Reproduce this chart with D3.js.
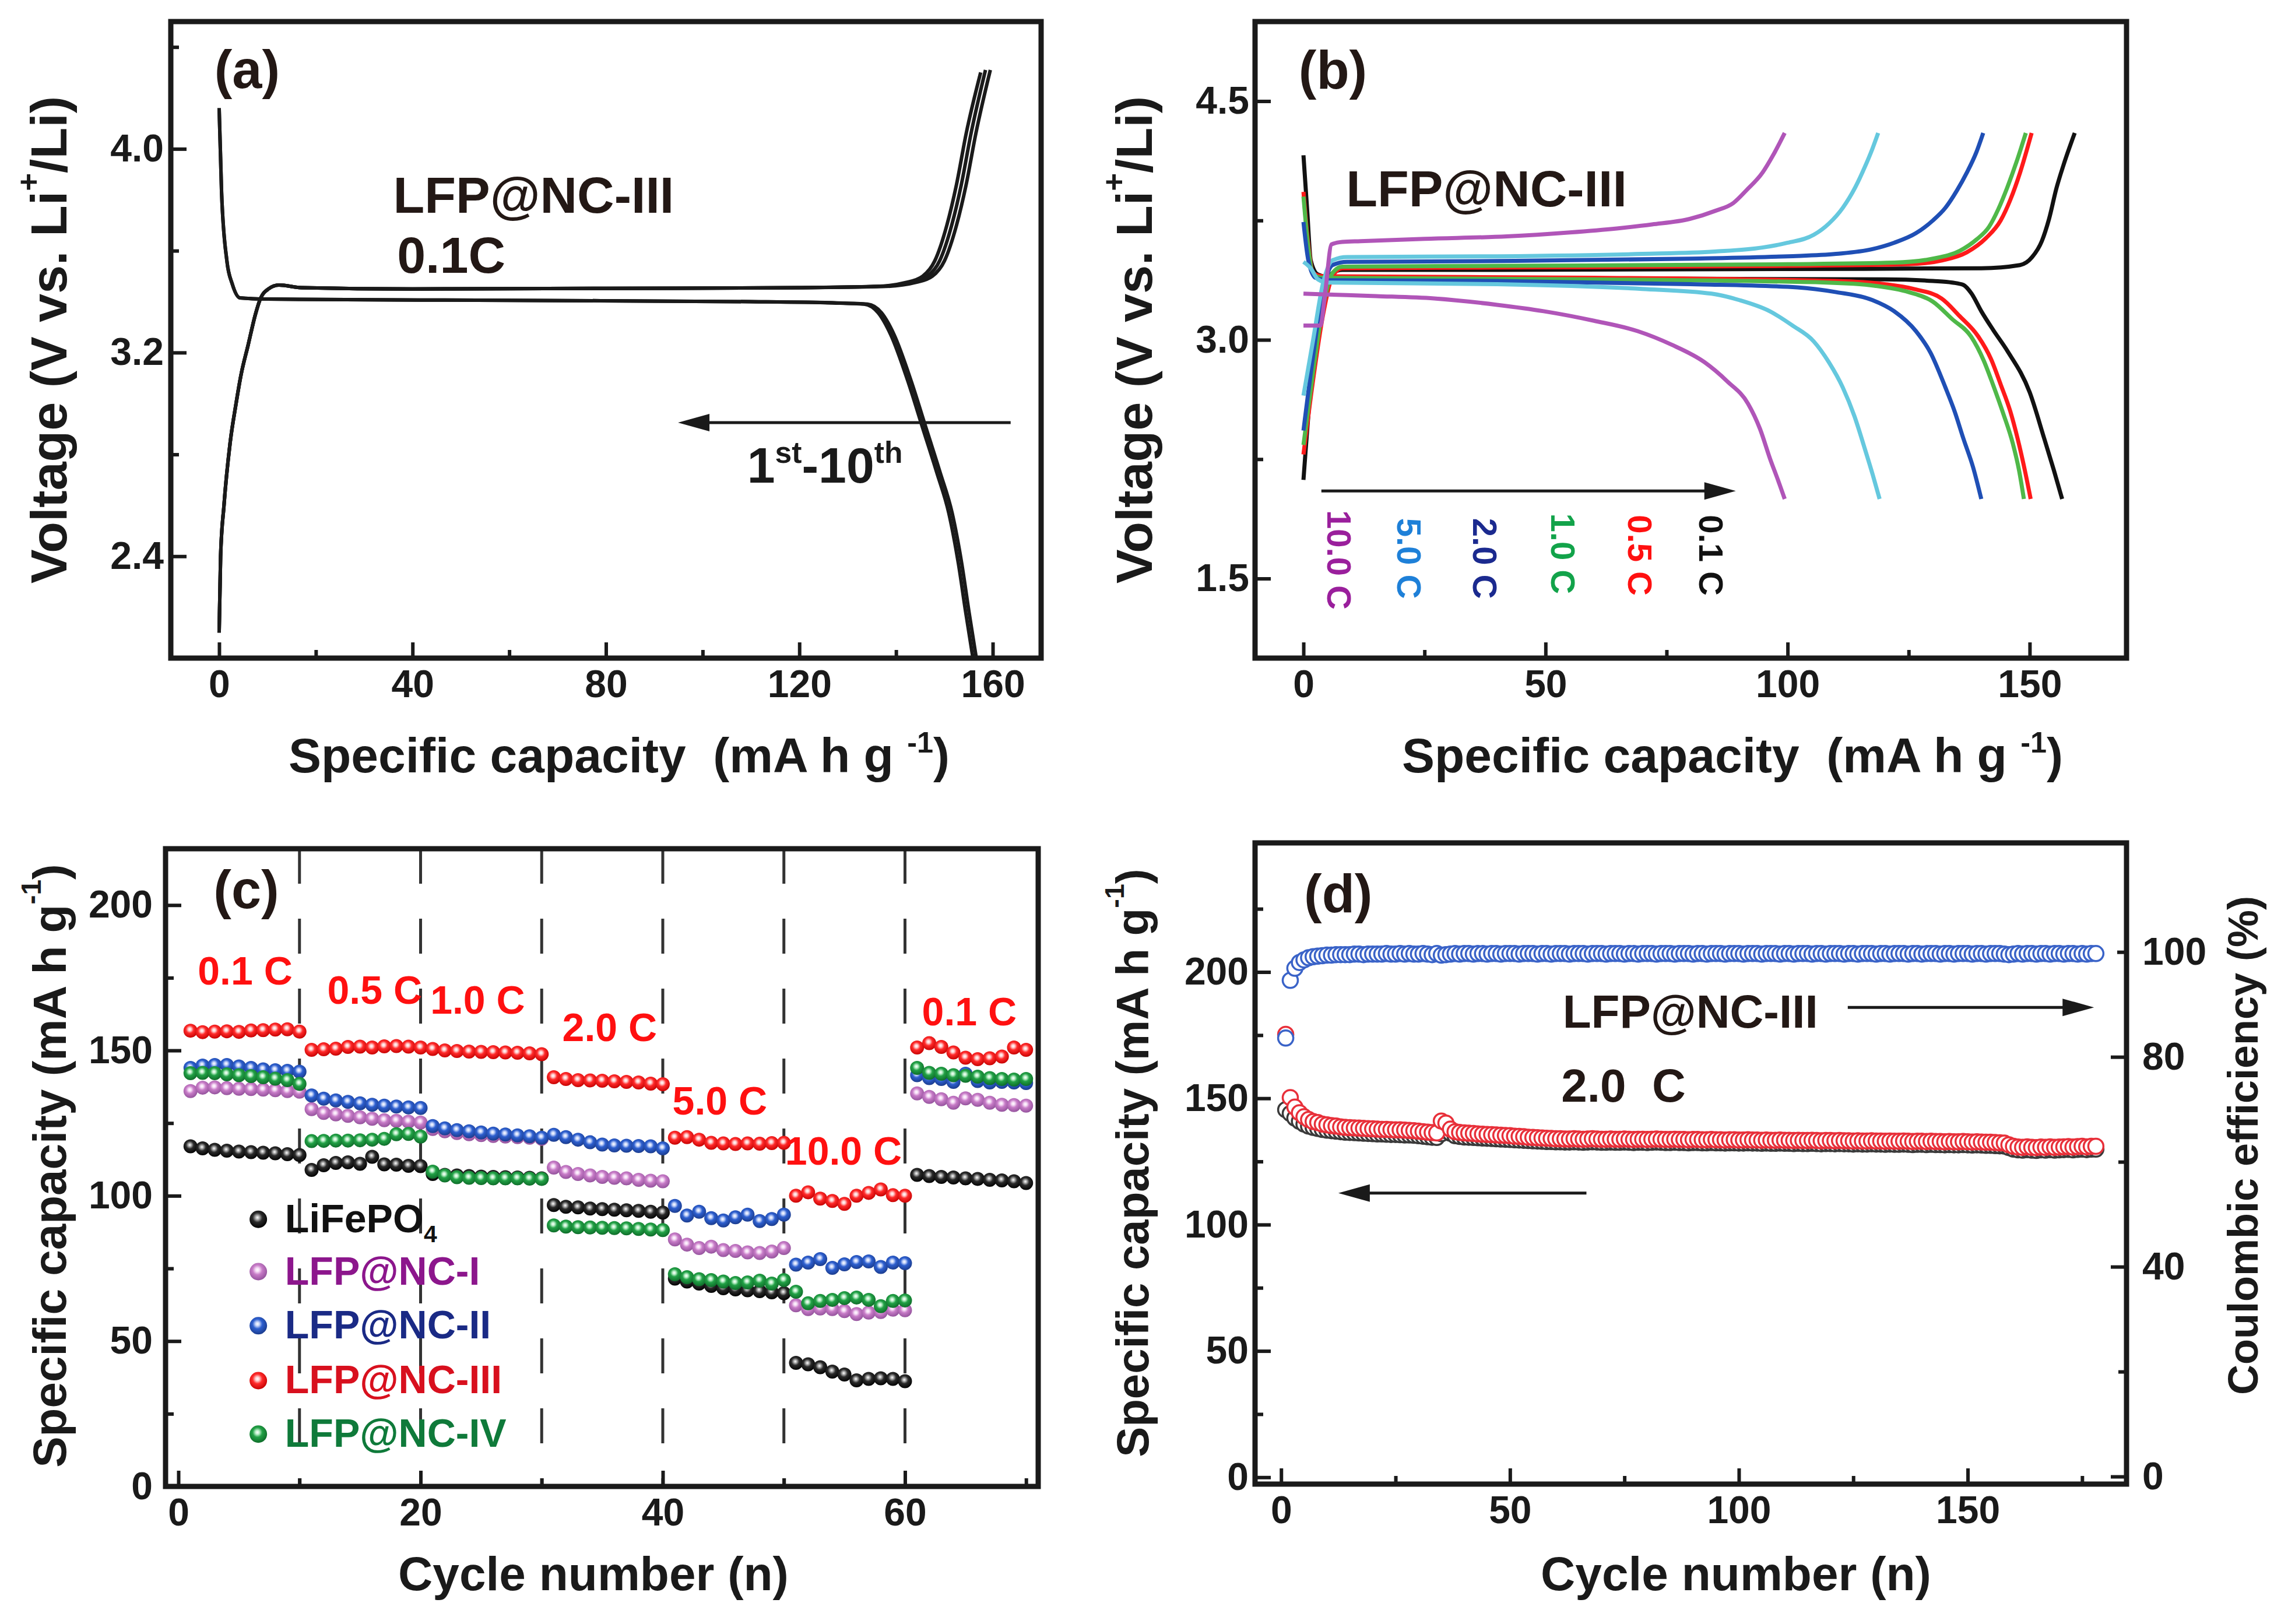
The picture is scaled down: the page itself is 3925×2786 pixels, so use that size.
<!DOCTYPE html>
<html>
<head>
<meta charset="utf-8">
<script src="https://cdnjs.cloudflare.com/ajax/libs/d3/7.8.5/d3.min.js"></script>
<style>
body { margin: 0; background: #fff; }
svg { display: block; }
text { font-family: "Liberation Sans", Arial, Helvetica, sans-serif; font-weight: bold; white-space: pre; }
</style>
</head>
<body>
<svg id="fig" width="3925" height="2786"></svg>
<script>
// ---------- (a) LFP@NC-III, 0.1C, cycles 1-10 : [capacity, voltage]
var aChargeHead = [[0,2.10],[0.3,2.40],[1.0,2.60],[2.3,2.85],[3.5,3.00],[4.5,3.11],[6,3.23],[7.5,3.35],[8.5,3.41],[10.2,3.45],[12.4,3.465],[17,3.455],[40,3.45],[80,3.452],[120,3.455]];
var aChargeTails = [
  [[138,3.46],[144,3.475],[147.5,3.50],[150,3.56],[152.5,3.70],[154.5,3.86],[156.5,4.06],[159.5,4.31]],
  [[137,3.46],[143,3.475],[146.5,3.50],[149,3.56],[151.5,3.70],[153.5,3.86],[155.5,4.06],[158.5,4.31]],
  [[136,3.46],[142,3.475],[145.5,3.50],[148,3.56],[150.5,3.70],[152.5,3.86],[154.5,4.06],[157.5,4.30]]
];
var aDischargeHead = [[0,4.16],[0.5,3.83],[1.6,3.56],[2.7,3.47],[4.3,3.415],[10,3.41],[60,3.405],[110,3.40]];
var aDischargeTails = [
  [[128,3.395],[134.1,3.39],[137,3.356],[139.6,3.27],[143.1,3.09],[146.1,2.91],[149.1,2.73],[151.6,2.57],[153.6,2.37],[155.1,2.18],[156.6,2.0]],
  [[127,3.395],[133.4,3.39],[136.3,3.356],[138.9,3.27],[142.4,3.09],[145.4,2.91],[148.4,2.73],[150.9,2.57],[152.9,2.37],[154.4,2.18],[155.9,2.0]]
];

// ---------- (b) rate curves : [capacity, voltage]
var bRates = ["0.1 C", "0.5 C", "1.0 C", "2.0 C", "5.0 C", "10.0 C"];
var bCharge = {
  "0.1 C": [[0,2.12],[1.5,2.7],[3,3.1],[4.5,3.35],[6,3.42],[8,3.44],[40,3.44],[100,3.445],[140,3.45],[148,3.47],[150.5,3.52],[152.5,3.62],[154,3.76],[155.5,3.95],[157,4.10],[159.3,4.30]],
  "0.5 C": [[0,2.28],[2,2.75],[4,3.15],[6,3.40],[8,3.45],[40,3.455],[100,3.465],[125,3.475],[132,3.50],[137,3.55],[141,3.64],[144,3.75],[146,3.88],[148,4.05],[150.4,4.30]],
  "1.0 C": [[0,2.34],[2,2.8],[4,3.2],[6,3.42],[8,3.46],[40,3.465],[100,3.475],[122,3.485],[130,3.51],[135.6,3.56],[139,3.63],[141.6,3.71],[143.5,3.82],[145.4,3.96],[147.3,4.12],[149.2,4.30]],
  "2.0 C": [[0,2.43],[2,2.9],[4,3.3],[6,3.47],[9,3.49],[40,3.495],[80,3.51],[100,3.525],[110,3.54],[117.5,3.57],[122,3.61],[126.5,3.67],[130,3.75],[132.6,3.83],[135,3.94],[137,4.05],[139,4.18],[140.4,4.30]],
  "5.0 C": [[0,2.65],[2,3.0],[4,3.35],[6,3.50],[9,3.52],[40,3.525],[70,3.54],[85,3.555],[94.8,3.58],[100,3.61],[105.4,3.66],[108.5,3.73],[111.4,3.83],[114,3.96],[116,4.09],[117.5,4.20],[118.7,4.30]],
  "10.0 C": [[0,3.09],[3.5,3.09],[4.5,3.3],[5.8,3.60],[8,3.615],[11.8,3.62],[25,3.635],[42,3.65],[55,3.675],[64.7,3.70],[72,3.725],[79.8,3.76],[85,3.81],[88.8,3.86],[91.5,3.94],[94.8,4.05],[97,4.16],[99.4,4.30]]
};
var bDischarge = {
  "0.1 C": [[0,4.16],[0.8,3.8],[1.5,3.5],[3,3.41],[6,3.39],[60,3.385],[120,3.38],[130,3.37],[134,3.36],[136.3,3.345],[138,3.29],[140,3.18],[142.5,3.06],[145.4,2.93],[150,2.67],[153,2.38],[155,2.18],[156.7,2.0]],
  "0.5 C": [[0,3.93],[1,3.6],[2,3.42],[4,3.40],[60,3.39],[110,3.37],[120,3.35],[126,3.32],[131.8,3.26],[135.5,3.15],[139.4,3.02],[142,2.88],[144,2.72],[146,2.55],[147.5,2.38],[149,2.18],[150.2,2.0]],
  "1.0 C": [[0,3.9],[1,3.58],[2,3.41],[4,3.39],[60,3.38],[108,3.36],[118,3.34],[125,3.30],[130,3.24],[134,3.13],[137.9,3.02],[140.5,2.87],[142.4,2.72],[144.5,2.54],[146.5,2.35],[147.8,2.18],[148.8,2.0]],
  "2.0 C": [[0,3.74],[1,3.5],[2.5,3.39],[5,3.375],[40,3.37],[80,3.35],[102,3.33],[110,3.30],[117.5,3.25],[122,3.18],[126.5,3.055],[129.5,2.92],[132.6,2.70],[134.5,2.55],[136.3,2.38],[138.3,2.2],[140,2.0]],
  "5.0 C": [[0,3.49],[1.5,3.45],[3,3.38],[5,3.36],[40,3.35],[70,3.32],[84.3,3.29],[90,3.25],[96.3,3.18],[101,3.09],[105.4,2.99],[108.5,2.86],[111.4,2.70],[113.8,2.52],[116,2.31],[117.6,2.15],[119,2.0]],
  "10.0 C": [[0,3.29],[5,3.285],[15,3.275],[27,3.26],[40,3.22],[49.6,3.18],[60,3.12],[69,3.055],[76,2.97],[82.8,2.86],[87.5,2.74],[91.8,2.60],[94.3,2.44],[96.4,2.25],[98,2.12],[99.4,2.0]]
};

// ---------- (c) rate capability, cycles 1-70 (mA h g-1)
var cNames = ["LiFePO4", "LFP@NC-I", "LFP@NC-II", "LFP@NC-III", "LFP@NC-IV"];
var cLiFePO4 = [117.0,116.3,115.8,115.5,115.2,115.0,114.8,114.6,114.3,114.0, 108.9,110.5,111.3,111.5,111.0,113.4,110.8,110.7,110.3,110.2, 107.5,107.2,107.0,106.8,106.6,106.5,106.4,106.3,106.2,106.0, 96.8,96.2,96.0,95.6,95.4,95.2,95.0,94.8,94.5,94.2, 71.5,70.5,69.8,69.0,68.2,67.8,67.5,67.2,66.8,66.5, 42.5,42.0,41.0,39.5,38.5,36.5,37.0,37.2,37.0,36.2, 107.2,106.8,106.5,106.3,106.0,105.8,105.5,105.3,105.0,104.4];
var cNC1 = [136.0,137.2,137.3,137.0,136.8,136.7,136.5,136.3,136.0,135.8, 129.8,128.5,128.0,127.5,127.0,126.5,126.0,125.8,125.5,125.2, 123.0,122.2,121.6,121.2,120.9,120.6,120.4,120.2,120.0,119.6, 109.7,108.2,107.5,107.0,106.5,106.2,106.0,105.5,105.2,105.0, 85.0,83.2,82.0,82.5,81.3,81.0,80.5,80.3,80.8,82.0, 62.3,61.0,61.2,61.0,60.3,59.3,59.8,60.0,60.8,60.6, 135.2,134.0,133.2,132.0,133.5,133.0,132.0,131.3,131.2,131.0];
var cNC2 = [144.0,144.8,145.0,145.0,144.5,144.0,143.5,143.2,143.0,142.7, 134.5,133.4,132.8,132.3,131.8,131.3,131.0,130.7,130.4,130.2, 124.0,123.2,122.6,122.2,121.8,121.4,121.1,120.8,120.5,120.0, 121.0,120.2,119.3,118.4,117.6,117.3,117.2,117.1,117.0,116.3, 96.5,93.2,94.5,92.3,91.5,92.6,93.5,91.3,92.0,93.5, 76.3,77.0,78.2,75.2,76.4,77.2,77.4,75.5,77.0,76.8, 141.5,140.5,140.2,139.2,142.0,139.5,139.0,139.2,139.0,138.8];
var cNC3 = [156.8,156.3,156.5,156.6,156.4,156.9,157.0,157.2,157.3,156.5, 150.2,150.4,150.6,151.2,151.3,151.0,151.4,151.5,151.3,151.0, 150.5,150.0,149.8,149.6,149.5,149.4,149.3,149.2,149.0,148.7, 140.8,140.2,139.8,139.7,139.6,139.4,139.2,139.0,138.6,138.4, 120.0,120.2,119.3,118.2,118.0,117.8,118.0,117.9,118.1,118.2, 100.0,101.2,99.0,98.2,97.2,100.0,101.0,102.2,100.2,100.0, 151.0,152.5,151.2,149.3,147.5,147.0,147.3,147.9,151.0,150.2];
var cNC4 = [142.2,142.3,142.2,141.8,141.5,141.2,140.8,140.3,139.8,138.5, 118.8,118.9,119.0,119.0,119.1,119.3,119.6,121.2,121.3,120.4, 108.3,107.0,106.4,106.2,106.1,106.0,106.0,106.0,105.9,105.8, 89.8,89.4,89.2,89.1,89.0,88.9,88.8,88.6,88.4,88.2, 73.0,72.0,71.3,71.0,70.5,70.0,70.2,70.8,69.8,71.0, 67.0,63.0,63.8,64.2,64.8,65.0,64.2,62.0,63.8,64.0, 144.0,142.3,142.0,141.5,141.3,141.0,140.5,140.2,140.0,140.2];
var cRateLabels = ["0.1 C", "0.5 C", "1.0 C", "2.0 C", "5.0 C", "10.0 C", "0.1 C"];
var cRateBreaks = [10, 20, 30, 40, 50, 60];

// ---------- (d) LFP@NC-III at 2.0 C, cycles 1-178
var dCharge = [145.5,144.0,142.2,140.9,139.8,139.0,138.5,138.1,137.7,137.4,
  137.2,137.0,136.8,136.6,136.5,136.4,136.3,136.2,136.1,136.0,
  135.9,135.9,135.8,135.7,135.7,135.6,135.5,135.5,135.4,135.2,
  135.0,134.8,134.6,134.5,136.0,137.2,136.2,135.2,134.9,134.7,
  134.6,134.5,134.4,134.3,134.2,134.1,134.0,133.9,133.8,133.7,
  133.6,133.5,133.4,133.3,133.2,133.1,133.0,132.9,132.9,132.8,
  132.8,132.7,132.7,132.8,132.7,132.6,132.7,132.8,132.7,132.6,
  132.6,132.7,132.6,132.6,132.7,132.6,132.5,132.6,132.6,132.5,
  132.6,132.7,132.6,132.5,132.5,132.6,132.5,132.5,132.4,132.5,
  132.5,132.4,132.4,132.5,132.4,132.4,132.3,132.4,132.4,132.3,
  132.3,132.4,132.3,132.3,132.2,132.3,132.2,132.2,132.3,132.2,
  132.2,132.1,132.2,132.1,132.1,132.2,132.1,132.0,132.1,132.1,
  132.0,132.1,132.0,132.0,131.9,132.0,131.9,131.9,132.0,131.9,
  131.9,131.8,131.9,131.8,131.8,131.9,131.8,131.7,131.8,131.8,
  131.7,131.8,131.7,131.7,131.6,131.7,131.6,131.6,131.7,131.6,
  131.5,131.6,131.5,131.4,131.4,131.3,131.2,131.1,130.5,129.9,
  129.6,129.5,129.7,129.5,129.4,129.6,129.5,129.7,129.5,129.6,
  129.7,129.8,129.6,129.8,129.9,129.7,129.9,129.9];
var dDischarge = [175.3,150.3,146.5,144.3,142.7,141.6,140.8,140.4,139.8,139.5,
  139.2,139.0,138.7,138.5,138.4,138.3,138.2,138.1,138.0,137.9,
  137.8,137.7,137.7,137.6,137.5,137.5,137.4,137.3,137.2,137.0,
  136.8,136.6,136.4,136.3,141.0,140.2,137.8,136.8,136.5,136.3,
  136.2,136.1,135.9,135.8,135.7,135.6,135.5,135.4,135.3,135.2,
  135.0,134.9,134.8,134.6,134.5,134.4,134.3,134.2,134.1,134.0,
  134.0,133.9,133.9,134.0,133.9,133.8,133.9,134.0,133.9,133.8,
  133.8,133.9,133.8,133.8,133.9,133.8,133.7,133.8,133.8,133.7,
  133.8,133.9,133.8,133.7,133.7,133.8,133.7,133.7,133.6,133.7,
  133.7,133.6,133.6,133.7,133.6,133.6,133.5,133.6,133.6,133.5,
  133.5,133.6,133.5,133.5,133.4,133.5,133.4,133.4,133.5,133.4,
  133.4,133.3,133.4,133.3,133.3,133.4,133.3,133.2,133.3,133.3,
  133.2,133.3,133.2,133.2,133.1,133.2,133.1,133.1,133.2,133.1,
  133.1,133.0,133.1,133.0,133.0,133.1,133.0,132.9,133.0,133.0,
  132.9,133.0,132.9,132.9,132.8,132.9,132.8,132.8,132.9,132.8,
  132.7,132.8,132.7,132.6,132.6,132.5,132.4,132.3,131.6,131.0,
  130.7,130.6,130.8,130.6,130.5,130.7,130.6,130.8,130.6,130.7,
  130.8,130.9,130.7,130.9,131.0,130.8,131.0,131.0];
var dEfficiency = [83.6,94.6,96.9,98.0,98.5,98.9,99.1,99.2,99.3,99.4,
  99.4,99.5,99.5,99.5,99.5,99.6,99.6,99.5,99.6,99.6,
  99.6,99.6,99.7,99.6,99.6,99.7,99.6,99.7,99.6,99.6,
  99.7,99.6,99.5,99.7,99.4,99.5,99.6,99.7,99.6,99.7,
  99.7,99.6,99.7,99.7,99.6,99.7,99.7,99.6,99.7,99.7,
  99.7,99.6,99.7,99.7,99.7,99.6,99.7,99.7,99.6,99.7,
  99.7,99.7,99.6,99.7,99.7,99.7,99.6,99.7,99.7,99.7,
  99.6,99.7,99.7,99.7,99.6,99.7,99.7,99.6,99.7,99.7,
  99.7,99.6,99.7,99.7,99.7,99.6,99.7,99.7,99.7,99.6,
  99.7,99.7,99.6,99.7,99.7,99.7,99.6,99.7,99.7,99.7,
  99.6,99.7,99.7,99.7,99.6,99.7,99.7,99.7,99.6,99.7,
  99.7,99.6,99.7,99.7,99.7,99.6,99.7,99.7,99.6,99.7,
  99.7,99.7,99.6,99.7,99.7,99.6,99.7,99.7,99.7,99.6,
  99.7,99.7,99.6,99.7,99.7,99.7,99.6,99.7,99.7,99.6,
  99.7,99.7,99.7,99.6,99.7,99.7,99.6,99.7,99.7,99.7,
  99.6,99.7,99.7,99.6,99.7,99.7,99.7,99.6,99.5,99.6,
  99.7,99.6,99.7,99.7,99.6,99.7,99.7,99.6,99.7,99.7,
  99.6,99.7,99.7,99.6,99.7,99.6,99.7,99.7];

var INK = "#1a1a1a";
var svg = d3.select("#fig");
svg.append("rect").attr("width", 3925).attr("height", 2786).attr("fill", "#fff");

// text with super/subscripts, parts = [{t, sup|sub}]
function label(g, x, y, size, parts, opt) {
  opt = opt || {};
  var t = g.append("text")
    .attr("x", x).attr("y", y)
    .attr("font-size", size)
    .attr("fill", opt.fill || INK)
    .attr("text-anchor", opt.anchor || "start")
    .attr("xml:space", "preserve");
  if (opt.rotate) t.attr("transform", "rotate(" + opt.rotate + "," + x + "," + y + ")");
  if (opt.baseline) t.attr("dominant-baseline", opt.baseline);
  if (typeof parts === "string") parts = [{ t: parts }];
  var shift = 0;
  parts.forEach(function (p) {
    var target = p.sup ? -0.4 * size : (p.sub ? 0.25 * size : 0);
    var ts = t.append("tspan").text(p.t);
    if (target - shift !== 0) ts.attr("dy", target - shift);
    if (p.sup || p.sub) ts.attr("font-size", 0.6 * size);
    shift = target;
  });
  return t;
}

function styleAxis(a) {
  a.select(".domain").remove();
  a.attr("font-family", null).attr("font-size", 66).attr("font-weight", "bold");
  a.selectAll(".tick line").attr("stroke", INK).attr("stroke-width", 6);
  a.selectAll(".tick text").attr("fill", INK);
}

function axes(g, x, y, o) {
  var yb = y.range()[0], xl = x.range()[0];
  styleAxis(g.append("g").attr("transform", "translate(0," + yb + ")")
    .call(d3.axisBottom(x).tickValues(o.xMinor).tickSize(-14).tickFormat("")));
  styleAxis(g.append("g").attr("transform", "translate(0," + yb + ")")
    .call(d3.axisBottom(x).tickValues(o.xMajor).tickSize(-27).tickPadding(20).tickFormat(o.xFmt)));
  styleAxis(g.append("g").attr("transform", "translate(" + xl + ",0)")
    .call(d3.axisLeft(y).tickValues(o.yMinor).tickSize(-14).tickFormat("")));
  styleAxis(g.append("g").attr("transform", "translate(" + xl + ",0)")
    .call(d3.axisLeft(y).tickValues(o.yMajor).tickSize(-27).tickPadding(o.yPad).tickFormat(o.yFmt)));
}

function frame(g, x, y) {
  var r = x.range(), s = y.range();
  g.append("rect").attr("x", r[0]).attr("y", s[1])
    .attr("width", r[1] - r[0]).attr("height", s[0] - s[1])
    .attr("fill", "none").attr("stroke", INK).attr("stroke-width", 9);
}

function arrow(g, xa, xb, y) {
  var dir = xb > xa ? 1 : -1;
  g.append("line").attr("x1", xa).attr("x2", xb - dir * 40).attr("y1", y).attr("y2", y)
    .attr("stroke", INK).attr("stroke-width", 5);
  g.append("path")
    .attr("d", "M" + xb + "," + y + "L" + (xb - dir * 54) + "," + (y - 15) + "L" + (xb - dir * 54) + "," + (y + 15) + "Z")
    .attr("fill", INK);
}

var f1 = d3.format(".1f"), f0 = d3.format("d");

// ================= (a)
(function () {
  var g = svg.append("g");
  var x = d3.scaleLinear().domain([-10, 170]).range([293, 1786]);
  var y = d3.scaleLinear().domain([2.0, 4.5]).range([1129, 37]);
  var line = d3.line().x(function (d) { return x(d[0]); }).y(function (d) { return y(d[1]); }).curve(d3.curveMonotoneX);
  aChargeTails.forEach(function (t) {
    g.append("path").datum(aChargeHead.concat(t)).attr("d", line)
      .attr("fill", "none").attr("stroke", INK).attr("stroke-width", 6);
  });
  aDischargeTails.forEach(function (t) {
    g.append("path").datum(aDischargeHead.concat(t)).attr("d", line)
      .attr("fill", "none").attr("stroke", INK).attr("stroke-width", 6);
  });
  axes(g, x, y, { xMajor: [0, 40, 80, 120, 160], xMinor: [20, 60, 100, 140], xFmt: f0,
    yMajor: [2.4, 3.2, 4.0], yMinor: [2.8, 3.6, 4.4], yFmt: f1, yPad: 12 });
  frame(g, x, y);
  label(g, x(-1), y(4.239), 92, "(a)", { fill: "#231815" });
  label(g, x(36), y(3.749), 88, "LFP@NC-III", { fill: "#231815" });
  label(g, x(36.8), y(3.513), 88, "0.1C", { fill: "#231815" });
  arrow(g, x(163.7), x(94.9), y(2.925));
  label(g, x(109.2), y(2.688), 86, [{ t: "1" }, { t: "st", sup: 1 }, { t: "-10" }, { t: "th", sup: 1 }]);
  label(g, 83, 583, 88, [{ t: "Voltage (V vs. Li" }, { t: "+", sup: 1 }, { t: "/Li)" }],
    { anchor: "middle", rotate: -90, baseline: "central" });
  label(g, 1062, 1325, 84, [{ t: "Specific capacity  (mA h g " }, { t: "-1", sup: 1 }, { t: ")" }], { anchor: "middle" });
})();

// ================= (b)
(function () {
  var g = svg.append("g");
  var x = d3.scaleLinear().domain([-10, 170]).range([2153, 3648]);
  var y = d3.scaleLinear().domain([1.0, 5.0]).range([1129, 37]);
  var lineColor = { "0.1 C": "#111111", "0.5 C": "#ff1a1a", "1.0 C": "#4fb848", "2.0 C": "#1f4fb5", "5.0 C": "#65c8de", "10.0 C": "#b055b8" };
  var textColor = { "0.1 C": "#111111", "0.5 C": "#ff1010", "1.0 C": "#12a34a", "2.0 C": "#1b2a8f", "5.0 C": "#1e80d8", "10.0 C": "#9a1f9c" };
  var line = d3.line().x(function (d) { return x(d[0]); }).y(function (d) { return y(d[1]); }).curve(d3.curveMonotoneX);
  bRates.forEach(function (r) {
    [bCharge[r], bDischarge[r]].forEach(function (c) {
      g.append("path").datum(c).attr("d", line)
        .attr("fill", "none").attr("stroke", lineColor[r]).attr("stroke-width", 7);
    });
  });
  axes(g, x, y, { xMajor: [0, 50, 100, 150], xMinor: [25, 75, 125], xFmt: f0,
    yMajor: [1.5, 3.0, 4.5], yMinor: [2.25, 3.75], yFmt: f1, yPad: 10 });
  frame(g, x, y);
  label(g, x(-1), y(4.58), 92, "(b)", { fill: "#231815" });
  label(g, x(8.8), y(3.84), 88, "LFP@NC-III", { fill: "#231815" });
  arrow(g, x(3.7), x(89.3), y(2.05));
  var pos = { "10.0 C": [7.5, 1.93], "5.0 C": [21.9, 1.88], "2.0 C": [37.6, 1.88], "1.0 C": [53.7, 1.91], "0.5 C": [69.6, 1.90], "0.1 C": [84.3, 1.90] };
  bRates.forEach(function (r) {
    label(g, x(pos[r][0]), y(pos[r][1]), 58, r, { fill: textColor[r], rotate: 90, baseline: "central" });
  });
  label(g, 1945, 583, 88, [{ t: "Voltage (V vs. Li" }, { t: "+", sup: 1 }, { t: "/Li)" }],
    { anchor: "middle", rotate: -90, baseline: "central" });
  label(g, 2972, 1325, 84, [{ t: "Specific capacity  (mA h g " }, { t: "-1", sup: 1 }, { t: ")" }], { anchor: "middle" });
})();

// ================= (c)
(function () {
  var g = svg.append("g");
  var defs = svg.append("defs");
  var x = d3.scaleLinear().domain([-1.06, 71.0]).range([284, 1781]);
  var y = d3.scaleLinear().domain([0, 219.4]).range([2550, 1456]);
  var series = [cLiFePO4, cNC1, cNC2, cNC3, cNC4];
  var balls = [
    { id: "ballK", hi: "#b0b0b0", base: "#2a2a2a", dark: "#000000" },
    { id: "ballP", hi: "#f6dcf6", base: "#c77bc7", dark: "#91509a" },
    { id: "ballB", hi: "#c8d6fa", base: "#2d5fcf", dark: "#1a3a8a" },
    { id: "ballR", hi: "#ffd0d0", base: "#ff2a2a", dark: "#c40000" },
    { id: "ballG", hi: "#bff0cc", base: "#22a146", dark: "#0d6a28" }
  ];
  var textColors = ["#111111", "#8c168c", "#1a2a85", "#d8101e", "#0f7a3a"];
  balls.forEach(function (b) {
    var rg = defs.append("radialGradient").attr("id", b.id).attr("cx", "0.45").attr("cy", "0.4").attr("r", "0.62");
    rg.append("stop").attr("offset", "0").attr("stop-color", "#ffffff");
    rg.append("stop").attr("offset", "0.18").attr("stop-color", b.hi);
    rg.append("stop").attr("offset", "0.45").attr("stop-color", b.base);
    rg.append("stop").attr("offset", "1").attr("stop-color", b.dark);
  });
  var cycles = d3.range(1, 71);
  cRateBreaks.forEach(function (b) {
    g.append("line").attr("x1", x(b)).attr("x2", x(b)).attr("y1", y.range()[1]).attr("y2", y.range()[0])
      .attr("stroke", "#333").attr("stroke-width", 5).attr("stroke-dasharray", "60,60");
  });
  series.forEach(function (s, i) {
    g.append("g").selectAll("circle").data(s).enter().append("circle")
      .attr("cx", function (d, j) { return x(cycles[j]); })
      .attr("cy", function (d) { return y(d); })
      .attr("r", 12).attr("fill", "url(#" + balls[i].id + ")");
  });
  var lp = [[1.6, 172.7], [12.3, 166.1], [20.8, 162.7], [31.7, 153.2], [40.8, 128.0], [50.1, 110.8], [61.4, 158.7]];
  cRateLabels.forEach(function (t, i) {
    label(g, x(lp[i][0]), y(lp[i][1]), 68, t, { fill: "#ff1010" });
  });
  var rows = [91.9, 73.9, 55.3, 36.4, 18.0];
  cNames.forEach(function (n, i) {
    g.append("circle").attr("cx", x(6.6)).attr("cy", y(rows[i])).attr("r", 15).attr("fill", "url(#" + balls[i].id + ")");
    var m = n.match(/^(.*?)(\d)$/);
    var parts = m ? [{ t: m[1] }, { t: m[2], sub: 1 }] : [{ t: n }];
    label(g, x(8.8), y(rows[i]) + 22, 68, parts, { fill: textColors[i] });
  });
  axes(g, x, y, { xMajor: [0, 20, 40, 60], xMinor: [10, 30, 50, 70], xFmt: f0,
    yMajor: [0, 50, 100, 150, 200], yMinor: [25, 75, 125, 175], yFmt: f0, yPad: 22 });
  frame(g, x, y);
  label(g, x(2.9), y(199), 92, "(c)", { fill: "#231815" });
  label(g, 85, 2000, 80, [{ t: "Specific capacity (mA h g" }, { t: "-1", sup: 1 }, { t: ")" }],
    { anchor: "middle", rotate: -90, baseline: "central" });
  label(g, 1018, 2728, 82, "Cycle number (n)", { anchor: "middle" });
})();

// ================= (d)
(function () {
  var g = svg.append("g");
  var x = d3.scaleLinear().domain([-5.7, 184.7]).range([2153, 3648]);
  var yL = d3.scaleLinear().domain([-2.7, 251.1]).range([2546, 1446]);
  var yR = d3.scaleLinear().domain([-1.44, 120.8]).range([2546, 1446]);
  var cycles = d3.range(1, dDischarge.length + 1);
  function rings(data, yS, color) {
    g.append("g").selectAll("circle").data(data).enter().append("circle")
      .attr("cx", function (d, j) { return x(cycles[j]); })
      .attr("cy", function (d) { return yS(d); })
      .attr("r", 13).attr("fill", "#fff").attr("stroke", color).attr("stroke-width", 3.5);
  }
  rings(dCharge, yL, "#3a3a3a");
  rings(dDischarge, yL, "#e8303a");
  rings(dEfficiency, yR, "#3a63c8");
  axes(g, x, yL, { xMajor: [0, 50, 100, 150], xMinor: [25, 75, 125, 175], xFmt: f0,
    yMajor: [0, 50, 100, 150, 200], yMinor: [25, 75, 125, 175, 225], yFmt: f0, yPad: 11 });
  var xr = x.range()[1];
  styleAxis(g.append("g").attr("transform", "translate(" + xr + ",0)")
    .call(d3.axisRight(yR).tickValues([20, 60]).tickSize(-14).tickFormat("")));
  styleAxis(g.append("g").attr("transform", "translate(" + xr + ",0)")
    .call(d3.axisRight(yR).tickValues([100]).tickSize(-16).tickPadding(27).tickFormat(f0)));
  styleAxis(g.append("g").attr("transform", "translate(" + xr + ",0)")
    .call(d3.axisRight(yR).tickValues([0, 40, 80]).tickSize(-27).tickPadding(27).tickFormat(f0)));
  frame(g, x, yL);
  label(g, x(5), yL(223.7), 92, "(d)", { fill: "#231815" });
  label(g, x(61.5), yL(177.9), 80, "LFP@NC-III", { fill: "#231815" });
  label(g, x(61.2), yL(148.7), 80, "2.0  C", { fill: "#231815" });
  arrow(g, x(123.8), x(177.6), yL(186));
  arrow(g, x(66.7), x(12.5), yL(112.5));
  label(g, 1943, 1995, 78, [{ t: "Specific capacity (mA h g" }, { t: "-1", sup: 1 }, { t: ")" }],
    { anchor: "middle", rotate: -90, baseline: "central" });
  label(g, 3848, 1965, 72, "Coulombic efficiency (%)", { anchor: "middle", rotate: -90, baseline: "central" });
  label(g, 2978, 2728, 82, "Cycle number (n)", { anchor: "middle" });
})();
</script>
</body>
</html>
